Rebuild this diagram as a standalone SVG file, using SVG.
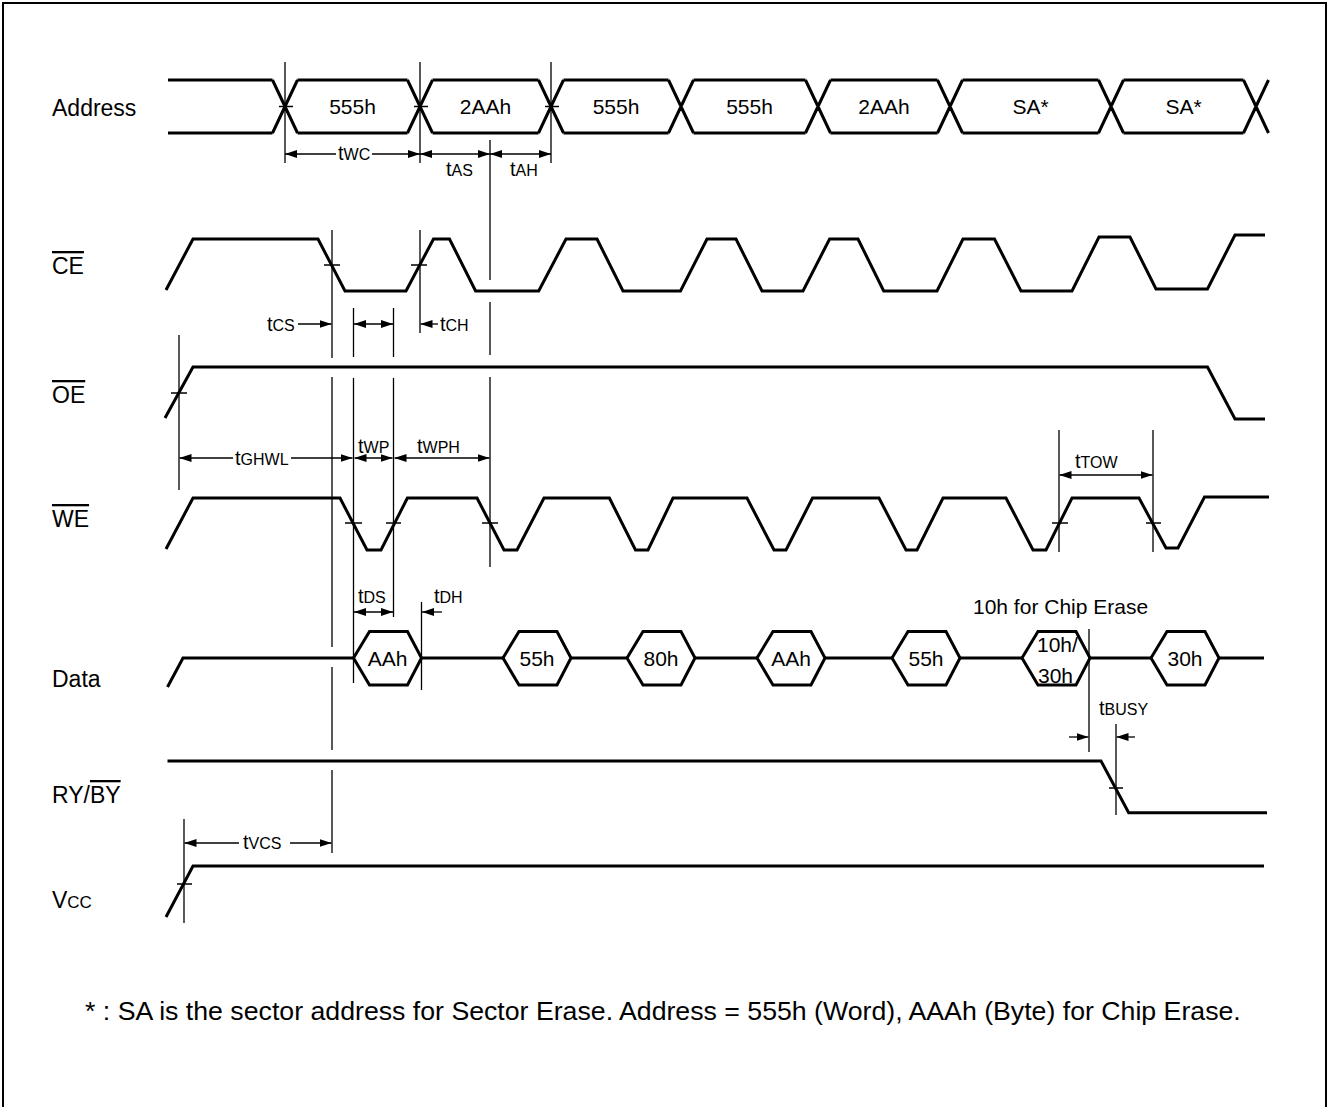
<svg xmlns="http://www.w3.org/2000/svg" width="1328" height="1107" viewBox="0 0 1328 1107">
<style>
text{font-family:"Liberation Sans",Arial,sans-serif;fill:#000}
.lbl{font-size:23px}
.val{font-size:21px}
.note{font-size:26.7px}
.tm{font-size:20px}
.sub{font-size:16px}
.sig{fill:none;stroke:#000;stroke-width:3;stroke-linejoin:miter}
.ref{fill:none;stroke:#000;stroke-width:1.3}
.dim{fill:none;stroke:#000;stroke-width:1.3}
.ov{text-decoration:overline}
</style>
<defs>
<marker id="ah" viewBox="0 0 12 8" refX="12" refY="4" markerWidth="12" markerHeight="8" markerUnits="userSpaceOnUse" orient="auto-start-reverse"><path d="M0,0 L12,4 L0,8 z" fill="#000"/></marker>
</defs>
<rect x="3" y="3" width="1323" height="1130" fill="#fff" stroke="#000" stroke-width="2"/>

<g id="sig-address">
<text class="lbl" x="52" y="116">Address</text>
<path class="sig" d="M168,80 H272.5 M168,133 H272.5 M272.5,80 L297.5,133 M272.5,133 L297.5,80 M297.5,80 H407.5 M297.5,133 H407.5 M407.5,80 L432.5,133 M407.5,133 L432.5,80 M432.5,80 H538.5 M432.5,133 H538.5 M538.5,80 L563.5,133 M538.5,133 L563.5,80 M563.5,80 H668.5 M563.5,133 H668.5 M668.5,80 L693.5,133 M668.5,133 L693.5,80 M693.5,80 H805.5 M693.5,133 H805.5 M805.5,80 L830.5,133 M805.5,133 L830.5,80 M830.5,80 H937.5 M830.5,133 H937.5 M937.5,80 L962.5,133 M937.5,133 L962.5,80 M962.5,80 H1098.5 M962.5,133 H1098.5 M1098.5,80 L1123.5,133 M1098.5,133 L1123.5,80 M1123.5,80 H1243.5 M1123.5,133 H1243.5 M1243.5,80 L1268.5,133 M1243.5,133 L1268.5,80"/>
<g class="val" text-anchor="middle">
<text x="352.5" y="114">555h</text>
<text x="485.5" y="114">2AAh</text>
<text x="616" y="114">555h</text>
<text x="749.5" y="114">555h</text>
<text x="884" y="114">2AAh</text>
<text x="1030.5" y="114">SA*</text>
<text x="1183.5" y="114">SA*</text>
</g>
</g>

<g id="sig-ce">
<text class="lbl" x="52" y="274"><tspan class="ov">CE</tspan></text>
<path class="sig" d="M166,290 L193,239 L318,239 L345,291 L406,291 L433.5,239 L449.5,239 L475.6,291 L538.7,291 L566,239 L597,239 L623,291 L680.5,291 L707,239 L736,239 L762,291 L803,291 L829.6,239 L858,239 L883.7,291 L937,291 L963,239 L994.5,239 L1021,291 L1072,291 L1099,237 L1130,237 L1156,289 L1207.5,289 L1235,235 L1265,235"/>
</g>

<g id="sig-oe">
<text class="lbl" x="52" y="403"><tspan class="ov">OE</tspan></text>
<path class="sig" d="M165,418 L193,367 L1207.5,367 L1235,419 L1265,419"/>
</g>

<g id="sig-we">
<text class="lbl" x="52" y="527"><tspan class="ov">WE</tspan></text>
<path class="sig" d="M166,549 L193,498 L340,498 L367,550 L381,550 L407.4,498 L477,498 L504,550 L517,550 L544,498 L609.4,498 L635.5,550 L648,550 L673,498 L747,498 L774,550 L786,550 L812.5,498 L879,498 L906,550 L917,550 L943,498 L1006,498 L1033,550 L1046,550 L1072,498 L1139,498 L1166,548 L1178,548 L1204.5,497 L1269,497"/>
</g>

<g id="sig-data">
<text class="lbl" x="52" y="687">Data</text>
<path class="sig" d="M167.5,687 L183,658 H353.5 M421.5,658 H503 M571,658 H627 M695,658 H757 M825,658 H892 M960,658 H1022 M1090,658 H1151 M1219,658 H1264"/>
<path class="sig" d="M353.5,658 L369.5,631.5 L407.5,631.5 L421.5,658 L407.5,685 L369.5,685 Z M503,658 L519,631.5 L557,631.5 L571,658 L557,685 L519,685 Z M627,658 L643,631.5 L681,631.5 L695,658 L681,685 L643,685 Z M757,658 L773,631.5 L811,631.5 L825,658 L811,685 L773,685 Z M892,658 L908,631.5 L946,631.5 L960,658 L946,685 L908,685 Z M1022,658 L1038,631.5 L1076,631.5 L1090,658 L1076,685 L1038,685 Z M1151,658 L1167,631.5 L1205,631.5 L1219,658 L1205,685 L1167,685 Z"/>
<g class="val" text-anchor="middle">
<text x="387.5" y="666">AAh</text>
<text x="537" y="666">55h</text>
<text x="661" y="666">80h</text>
<text x="791" y="666">AAh</text>
<text x="926" y="666">55h</text>
<text x="1185" y="666">30h</text>
</g>
<text class="val" x="1037" y="652">10h/</text>
<text class="val" x="1038" y="683">30h</text>
<text class="val" x="973" y="614">10h for Chip Erase</text>
</g>

<g id="sig-ryby">
<text class="lbl" x="52" y="803">RY/<tspan class="ov">BY</tspan></text>
<path class="sig" d="M167.5,761 L1101,761 L1128.7,812.7 L1267,812.7"/>
</g>

<g id="sig-vcc">
<text class="lbl" x="52" y="908">V<tspan font-size="17px">CC</tspan></text>
<path class="sig" d="M166,917 L193,866 L1264,866"/>
</g>

<g id="connectors">
<path class="ref" d="M285,62 V163 M420,62 V163 M551,62 V163 M490,140 V280 M490,302 V355 M490,377 V567 M332,230 V358 M332,377 V647 M332,667 V750 M332,770 V853 M179,335 V490 M353.5,308 V357 M353.5,378 V683 M393.5,308 V357 M393.5,378 V617 M420,230 V333 M421.5,602 V690 M1059,430 V552 M1153,430 V552 M1089,629 V752 M1116,724 V815 M184,819 V923"/>
<path class="ref" d="M279,106.5 H293 M414,106.5 H428 M545,106.5 H559 M324,265 H340 M411,265 H427 M171,393 H187 M345,523 H362 M386,523 H401 M482,523 H498 M1052,523 H1068 M1146,523 H1161 M1109,788 H1123 M177,884 H192"/>
<g class="dim">
<path d="M336,154 H285" marker-end="url(#ah)"/>
<path d="M372,154 H420" marker-end="url(#ah)"/>
<path d="M420,154 H490" marker-start="url(#ah)" marker-end="url(#ah)"/>
<path d="M490,154 H551" marker-start="url(#ah)" marker-end="url(#ah)"/>
<path d="M298,324 H331.5" marker-end="url(#ah)"/>
<path d="M354,324 H393" marker-start="url(#ah)" marker-end="url(#ah)"/>
<path d="M438,324 H420.5" marker-end="url(#ah)"/>
<path d="M233,458 H179.5" marker-end="url(#ah)"/>
<path d="M291,458 H352.5" marker-end="url(#ah)"/>
<path d="M354.5,458 H392.5" marker-start="url(#ah)" marker-end="url(#ah)"/>
<path d="M394.5,458 H489.5" marker-start="url(#ah)" marker-end="url(#ah)"/>
<path d="M1059.5,475 H1152.5" marker-start="url(#ah)" marker-end="url(#ah)"/>
<path d="M354,612 H393" marker-start="url(#ah)" marker-end="url(#ah)"/>
<path d="M442,612 H422" marker-end="url(#ah)"/>
<path d="M1069,737 H1088.5" marker-end="url(#ah)"/>
<path d="M1135,737 H1116.5" marker-end="url(#ah)"/>
<path d="M239,843 H184.5" marker-end="url(#ah)"/>
<path d="M290,843 H331.5" marker-end="url(#ah)"/>
</g>
<g class="tm">
<text x="338" y="160">t<tspan class="sub">WC</tspan></text>
<text x="446" y="176">t<tspan class="sub">AS</tspan></text>
<text x="510" y="176">t<tspan class="sub">AH</tspan></text>
<text x="267" y="331">t<tspan class="sub">CS</tspan></text>
<text x="440" y="331">t<tspan class="sub">CH</tspan></text>
<text x="235" y="465">t<tspan class="sub">GHWL</tspan></text>
<text x="358" y="453">t<tspan class="sub">WP</tspan></text>
<text x="417" y="453">t<tspan class="sub">WPH</tspan></text>
<text x="1075" y="468">t<tspan class="sub">TOW</tspan></text>
<text x="358" y="603">t<tspan class="sub">DS</tspan></text>
<text x="434" y="603">t<tspan class="sub">DH</tspan></text>
<text x="1099" y="715">t<tspan class="sub">BUSY</tspan></text>
<text x="243" y="849">t<tspan class="sub">VCS</tspan></text>
</g>
</g>

<text class="note" x="85" y="1020">* : SA is the sector address for Sector Erase. Address = 555h (Word), AAAh (Byte) for Chip Erase.</text>
</svg>
